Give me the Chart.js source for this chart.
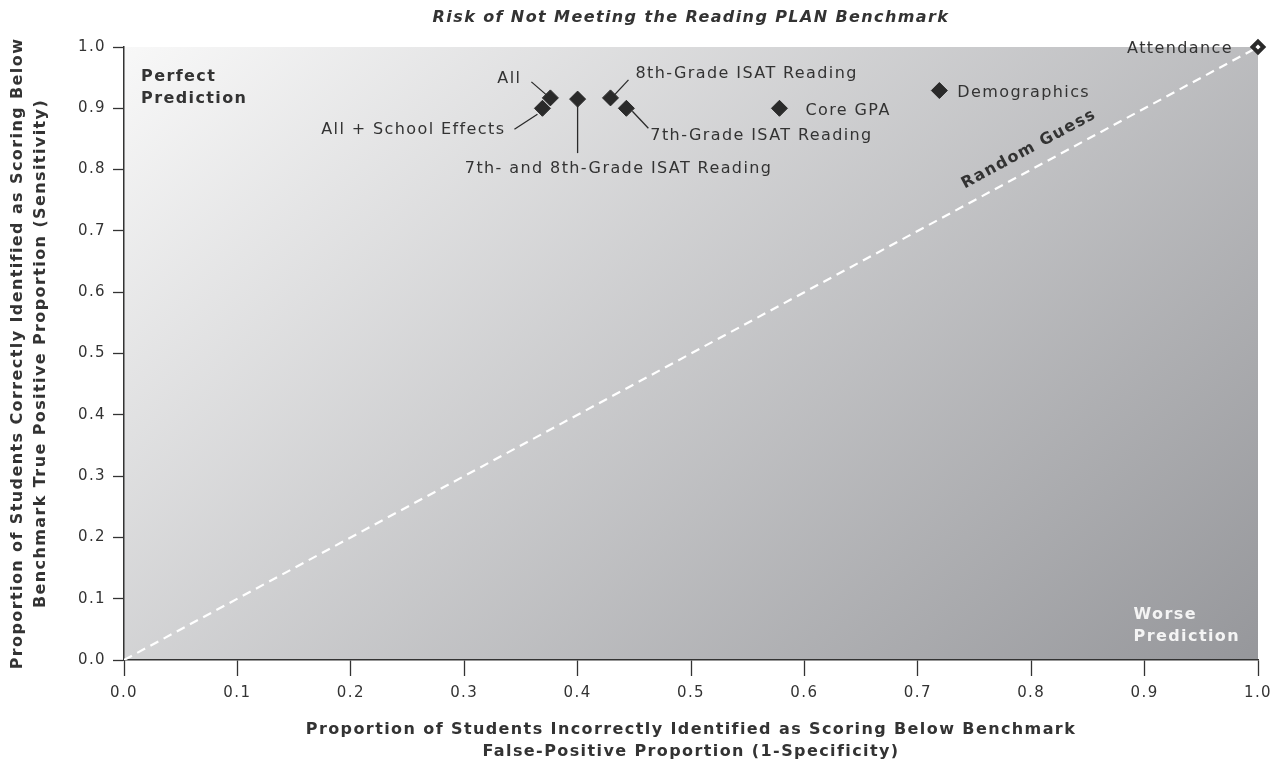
<!DOCTYPE html>
<html>
<head>
<meta charset="utf-8">
<script src="https://cdn.jsdelivr.net/npm/chart.js@4"></script>
<style>
  html, body { margin: 0; padding: 0; background: #fff; }
  #wrap { width: 1281px; height: 763px; }
</style>
</head>
<body>
<div id="wrap"><canvas id="roc" width="1281" height="763"></canvas></div>
<script>
"use strict";
// values
const predictors = ['All', 'All + School Effects', '7th- and 8th-Grade ISAT Reading', '8th-Grade ISAT Reading',
    '7th-Grade ISAT Reading', 'Core GPA', 'Demographics', 'Attendance'];
const falsePositive = [0.376, 0.369, 0.400, 0.429, 0.443, 0.578, 0.719, 1.0];
const sensitivity = [0.917, 0.900, 0.915, 0.917, 0.900, 0.900, 0.929, 1.0];
const guessX = [0, 1];
const guessY = [0, 1];
const tickValues = [0, 0.1, 0.2, 0.3, 0.4, 0.5, 0.6, 0.7, 0.8, 0.9, 1.0];
const tickLabels = ['0.0', '0.1', '0.2', '0.3', '0.4', '0.5', '0.6', '0.7', '0.8', '0.9', '1.0'];

// label placement, pixel offsets from each point (dx, dy, align, leader line)
const labelPlacement = [
    { dx: -29, dy: -19, align: 'right', lead: [-19, -16, -4, -3] },
    { dx: -37, dy: 22, align: 'right', lead: [-28, 21, -5, 6] },
    { dx: 41, dy: 70, align: 'center', lead: [0, 4, 0, 54] },
    { dx: 25, dy: -24, align: 'left', lead: [18, -18, 4, -3] },
    { dx: 24, dy: 28, align: 'left', lead: [6, 3, 22, 20] },
    { dx: 26, dy: 3, align: 'left', lead: null },
    { dx: 18, dy: 2, align: 'left', lead: null },
    { dx: -25, dy: 2, align: 'right', lead: null }
];

const FONT = "'DejaVu Sans', sans-serif";
const INK = '#333333';
const MARK = '#2a2a2a';
const SPACING = '1.4px';   // the original face is much wider than DejaVu

document.addEventListener('DOMContentLoaded', () => {
    const ctx = document.getElementById('roc');

    const backdrop = {
        id: 'backdrop',
        beforeDraw(chart) {
            const { ctx, chartArea: a } = chart;
            ctx.letterSpacing = SPACING;
            const w = a.right - a.left, h = a.bottom - a.top;
            // darker toward the lower right, a bit more along x than y
            const gx = 58 / w, gy = 36 / h;
            const k = 94 / (gx * gx + gy * gy);
            const grad = ctx.createLinearGradient(a.left, a.top, a.left + gx * k, a.top + gy * k);
            grad.addColorStop(0, 'rgb(248,248,248)');
            grad.addColorStop(1, 'rgb(150,151,155)');
            ctx.save();
            ctx.fillStyle = grad;
            ctx.fillRect(a.left, a.top, w, h);
            ctx.restore();
        }
    };

    const annotate = {
        id: 'annotate',
        afterDraw(chart) {
            const { ctx, chartArea: a } = chart;
            const xs = chart.scales.x, ys = chart.scales.y;
            ctx.save();
            ctx.letterSpacing = SPACING;

            // title, centred over the plot area
            ctx.font = `italic bold 16px ${FONT}`;
            ctx.fillStyle = INK;
            ctx.textAlign = 'center';
            ctx.textBaseline = 'middle';
            ctx.fillText('Risk of Not Meeting the Reading PLAN Benchmark', (a.left + a.right) / 2, 18);

            // point labels with leader lines
            ctx.font = `16px ${FONT}`;
            ctx.strokeStyle = MARK;
            ctx.lineWidth = 1.3;
            predictors.forEach((name, i) => {
                const px = xs.getPixelForValue(falsePositive[i]);
                const py = ys.getPixelForValue(sensitivity[i]);
                const p = labelPlacement[i];
                if (p.lead) {
                    ctx.beginPath();
                    ctx.moveTo(px + p.lead[0], py + p.lead[1]);
                    ctx.lineTo(px + p.lead[2], py + p.lead[3]);
                    ctx.stroke();
                }
                ctx.textAlign = p.align;
                ctx.fillText(name, px + p.dx, py + p.dy);
            });

            // corner notes
            ctx.font = `bold 16px ${FONT}`;
            ctx.textAlign = 'left';
            ctx.fillStyle = INK;
            ctx.fillText('Perfect', a.left + 17, a.top + 30);
            ctx.fillText('Prediction', a.left + 17, a.top + 52);
            ctx.fillStyle = '#f4f4f4';
            const wp = ctx.measureText('Prediction').width;
            ctx.fillText('Worse', a.right - 18 - wp, a.bottom - 45);
            ctx.fillText('Prediction', a.right - 18 - wp, a.bottom - 23);

            // random guess label along the diagonal
            const x0 = xs.getPixelForValue(guessX[0]), y0 = ys.getPixelForValue(guessY[0]);
            const x1 = xs.getPixelForValue(guessX[1]), y1 = ys.getPixelForValue(guessY[1]);
            const ang = Math.atan2(y1 - y0, x1 - x0);
            const t = 0.806;
            ctx.translate(x0 + (x1 - x0) * t, y0 + (y1 - y0) * t);
            ctx.rotate(ang);
            ctx.font = `bold 16px ${FONT}`;
            ctx.fillStyle = INK;
            ctx.textAlign = 'center';
            ctx.fillText('Random Guess', 0, -19);
            ctx.restore();
        }
    };

    new Chart(ctx, {
        type: 'scatter',
        data: {
            datasets: [
                {
                    label: 'Predictors',
                    data: predictors.map((p, i) => ({ x: falsePositive[i], y: sensitivity[i] })),
                    pointStyle: 'rectRot',
                    pointRadius: predictors.map(p => p === 'Attendance' ? 5.4 : 8),
                    pointBorderWidth: predictors.map(p => p === 'Attendance' ? 4 : 1),
                    pointBackgroundColor: predictors.map(p => p === 'Attendance' ? '#ffffff' : MARK),
                    pointBorderColor: MARK,
                    clip: false,
                    order: 1
                },
                {
                    type: 'line',
                    label: 'Random Guess',
                    data: guessX.map((v, i) => ({ x: v, y: guessY[i] })),
                    borderColor: '#ffffff',
                    borderWidth: 2.2,
                    borderDash: [9, 6],
                    pointRadius: 0,
                    fill: false,
                    order: 2
                }
            ]
        },
        options: {
            responsive: false,
            animation: false,
            events: [],
            layout: { padding: { left: 0, right: 23, top: 47, bottom: 0 } },
            plugins: {
                legend: { display: false },
                tooltip: { enabled: false },
                title: { display: false }
            },
            scales: {
                x: {
                    type: 'linear',
                    min: 0, max: 1,
                    afterBuildTicks: s => { s.ticks = tickValues.map(v => ({ value: v })); },
                    afterFit: s => { s.height = 103; },
                    grid: { drawOnChartArea: false, drawTicks: true, tickLength: 16, tickColor: INK, tickWidth: 1.3 },
                    border: { color: INK, width: 1.5 },
                    ticks: {
                        color: INK, padding: 8, maxRotation: 0,
                        font: { family: FONT, size: 15 },
                        callback: (v, i) => tickLabels[i]
                    },
                    title: {
                        display: true,
                        text: ['Proportion of Students Incorrectly Identified as Scoring Below Benchmark',
                            'False-Positive Proportion (1-Specificity)'],
                        color: INK,
                        font: { family: FONT, size: 16, weight: 'bold', lineHeight: 1.375 },
                        padding: { top: 0, bottom: 0 }
                    }
                },
                y: {
                    type: 'linear',
                    min: 0, max: 1,
                    afterBuildTicks: s => { s.ticks = tickValues.map(v => ({ value: v })); },
                    afterFit: s => { s.width = 124; },
                    grid: { drawOnChartArea: false, drawTicks: true, tickLength: 11, tickColor: INK, tickWidth: 1.3 },
                    border: { color: INK, width: 1.5 },
                    ticks: {
                        color: INK, padding: 7,
                        font: { family: FONT, size: 15 },
                        callback: (v, i) => tickLabels[i]
                    },
                    title: {
                        display: true,
                        text: ['Proportion of Students Correctly Identified as Scoring Below',
                            'Benchmark True Positive Proportion (Sensitivity)'],
                        color: INK,
                        font: { family: FONT, size: 16, weight: 'bold', lineHeight: 1.45 },
                        padding: { top: 6, bottom: 0 }
                    }
                }
            }
        },
        plugins: [backdrop, annotate]
    });
});
</script>
</body>
</html>
